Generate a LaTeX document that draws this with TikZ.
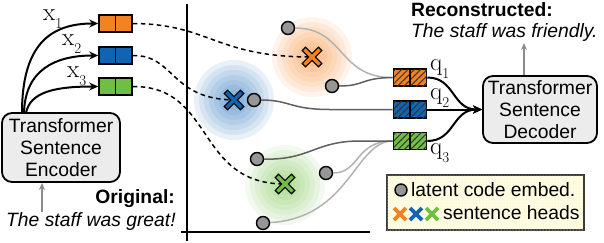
\RequirePackage{fix-cm}
\documentclass[tikz,border=0pt]{standalone}
\usepackage[no-math]{fontspec}
\setsansfont{Liberation Sans}
\usetikzlibrary{arrows.meta,patterns.meta}
\definecolor{cor}{RGB}{245,130,32}
\definecolor{cbl}{RGB}{16,100,180}
\definecolor{cgr}{RGB}{112,190,68}
\definecolor{boxgray}{RGB}{236,236,236}
\definecolor{dotgray}{RGB}{150,150,150}
\definecolor{lightln}{RGB}{178,178,178}
\definecolor{darkln}{RGB}{95,95,95}
\definecolor{arrgray}{RGB}{140,140,140}
\definecolor{legfill}{RGB}{255,252,228}
\definecolor{legdot}{RGB}{246,236,170}
\definecolor{legborder}{RGB}{60,60,60}
\newcommand{\headmark}[2]{%
  \begin{scope}[shift={(#2)}]
    \draw[line width=5.8pt] (-8.6,-8.6) -- (8.6,8.6) (-8.6,8.6) -- (8.6,-8.6);
    \draw[line width=3.2pt, draw=#1] (-7.6,-7.6) -- (7.6,7.6) (-7.6,7.6) -- (7.6,-7.6);
  \end{scope}}
\newcommand{\legmark}[2]{%
  \begin{scope}[shift={(#2)}]
    \draw[line width=3.6pt, draw=#1] (-6,-6) -- (6,6) (-6,6) -- (6,-6);
  \end{scope}}
\newcommand{\blob}[2]{%
  \foreach \r/\o in {40/0.09,35/0.09,30/0.09,25/0.09,20/0.09,15/0.09,10/0.09} {\fill[#1, fill opacity=\o] (#2) circle[radius=\r pt];}}
\newcommand{\lsub}[2]{#1\raisebox{-8pt}{\fontsize{15}{15}\selectfont #2}}
\begin{document}
\begin{tikzpicture}[x=1pt,y=-1pt,
  txt/.style={font=\sffamily\fontsize{19.3}{22}\selectfont, inner sep=0pt},
  tbox/.style={txt, draw, line width=1.8pt, rounded corners=10pt, fill=boxgray, align=center},
  cell/.style={draw, line width=1.6pt, minimum width=33pt, minimum height=17pt, inner sep=0pt},
  hatch/.style={postaction={pattern={Lines[angle=45,distance=4.5pt,line width=1pt]}, pattern color=black!80}},
  dotn/.style={circle, draw, line width=1.4pt, fill=dotgray, minimum size=13pt, inner sep=0pt},
  conn/.style={line width=2pt, -{Stealth[length=9pt,width=8pt]}},
  dsh/.style={line width=1.5pt, dash pattern=on 4.5pt off 3.5pt},
  lt/.style={line width=1.5pt, draw=lightln},
  dk/.style={line width=1.5pt, draw=darkln},
  garr/.style={line width=1.5pt, draw=arrgray, -{Stealth[length=7pt,width=6pt]}},
  axisln/.style={line width=2.5pt},
  lbl/.style={inner sep=0pt, anchor=base west, font=\rmfamily\fontsize{25}{28}\selectfont}
]
\useasboundingbox (0,0) rectangle (604,242);

% clouds
\blob{cor}{312,57}
\blob{cbl}{234,100}
\blob{cgr}{285,185}

% axes
\draw[axisln] (187,4) -- (187,241);
\draw[axisln] (181,232) -- (370,232);

% encoder / decoder
\node[tbox, minimum width=118pt, minimum height=69pt] (enc) at (61,147.5) {Transformer\\Sentence\\Encoder};
\node[tbox, minimum width=114pt, minimum height=67pt] (dec) at (540,109.5) {Transformer\\Sentence\\Decoder};

% left cells
\node[cell, fill=cor] (bo1) at (115.5,23.5) {};
\node[cell, fill=cbl] (bo2) at (115.5,55.5) {};
\node[cell, fill=cgr] (bo3) at (115.5,86.5) {};
\foreach \n in {bo1,bo2,bo3} {\draw[line width=1.6pt] (\n.north) -- (\n.south);}

% q cells
\node[cell, fill=cor, hatch] (bq1) at (410,77.5) {};
\node[cell, fill=cbl, hatch] (bq2) at (410,109.5) {};
\node[cell, fill=cgr, hatch] (bq3) at (410,141) {};
\foreach \n in {bq1,bq2,bq3} {\draw[line width=1.6pt] (\n.north) -- (\n.south);}

% encoder arrows
\coordinate (es1) at (22,113);
\coordinate (es2) at (24,113);
\coordinate (es3) at (26,113);
\draw[conn] (es1) .. controls (22,45) and (50,23.5) .. (bo1.west);
\draw[conn] (es2) .. controls (25,70) and (55,55.5) .. (bo2.west);
\draw[conn] (es3) .. controls (30,92) and (55,86.5) .. (bo3.west);
\node[lbl] (x1) at (43,20) {\lsub{x}{1}};
\node[lbl] (x2) at (62,45) {\lsub{x}{2}};
\node[lbl] (x3) at (67,77) {\lsub{x}{3}};

% heads
\coordinate (cx1) at (312,57);
\coordinate (cx2) at (234,100);
\coordinate (cx3) at (285,184);
\draw[dsh] (bo1.east) .. controls (210,24) and (215,57) .. (cx1);
\draw[dsh] (bo2.east) .. controls (175,55) and (170,99) .. (cx2);
\draw[dsh] (bo3.east) .. controls (215,86) and (195,184) .. (cx3);

% dots
\node[dotn] (d1) at (288,28) {};
\node[dotn] (d2) at (332,86) {};
\node[dotn] (d3) at (254,100) {};
\node[dotn] (d4) at (257,159) {};
\node[dotn] (d5) at (326,173) {};
\node[dotn] (d6) at (263,223) {};

% gray curves
\draw[lt] (d1) .. controls (345,28) and (338,78) .. (bq1.west);
\draw[dk] (d2) .. controls (365,86) and (360,78) .. (bq1.west);
\draw[dk] (d3) .. controls (290,100) and (290,109.5) .. (330,109.5) -- (bq2.west);
\draw[lt] (d6) .. controls (350,218) and (355,141) .. (bq3.west);
\draw[lt] (d5) .. controls (360,173) and (355,141) .. (bq3.west);
\draw[dk] (d4) .. controls (310,160) and (315,141) .. (360,141) -- (bq3.west);

\headmark{cor}{cx1}
\headmark{cbl}{cx2}
\headmark{cgr}{cx3}

% decoder arrows
\draw[conn] (bq1.east) .. controls (455,77.5) and (452,109.5) .. (dec.west);
\draw[conn] (bq3.east) .. controls (455,141) and (452,109.5) .. (dec.west);
\draw[conn] (bq2.east) -- (dec.west);
\node[lbl] (q1) at (430,70) {\lsub{q}{1}};
\node[lbl] (q2) at (430,99) {\lsub{q}{2}};
\node[lbl] (q3) at (430,154) {\lsub{q}{3}};

% texts and gray arrows
\node[txt, anchor=east] (orig) at (175,199) {\bfseries Original:};
\node[txt, anchor=west] (origs) at (6,222) {\itshape The staff was great!};
\coordinate (g1) at (42,212);
\draw[garr] (g1) -- (g1 |- enc.south);
\node[txt, anchor=west] (rec) at (411,10) {\bfseries Reconstructed:};
\node[txt, anchor=west] (recs) at (411,33) {\itshape The staff was friendly.};
\coordinate (g2) at (524,43);
\draw[garr] (g2 |- dec.north) -- (g2);

% legend
\node[draw=legborder, line width=1.6pt, fill=legfill, minimum width=197pt, minimum height=55pt, inner sep=0pt,
  postaction={pattern={Dots[distance=3pt,radius=0.5pt]}, pattern color=legdot}] (leg) at (485.5,202.5) {};
\node[dotn, minimum size=12pt] (ld) at (401,190) {};
\node[txt, anchor=west] (lt1) at (411,190) {latent code embed.};
\legmark{cor}{400,214}
\legmark{cbl}{416,214}
\legmark{cgr}{432,214}
\node[txt, anchor=west] (lt2) at (443,213) {sentence heads};
\end{tikzpicture}
\end{document}
